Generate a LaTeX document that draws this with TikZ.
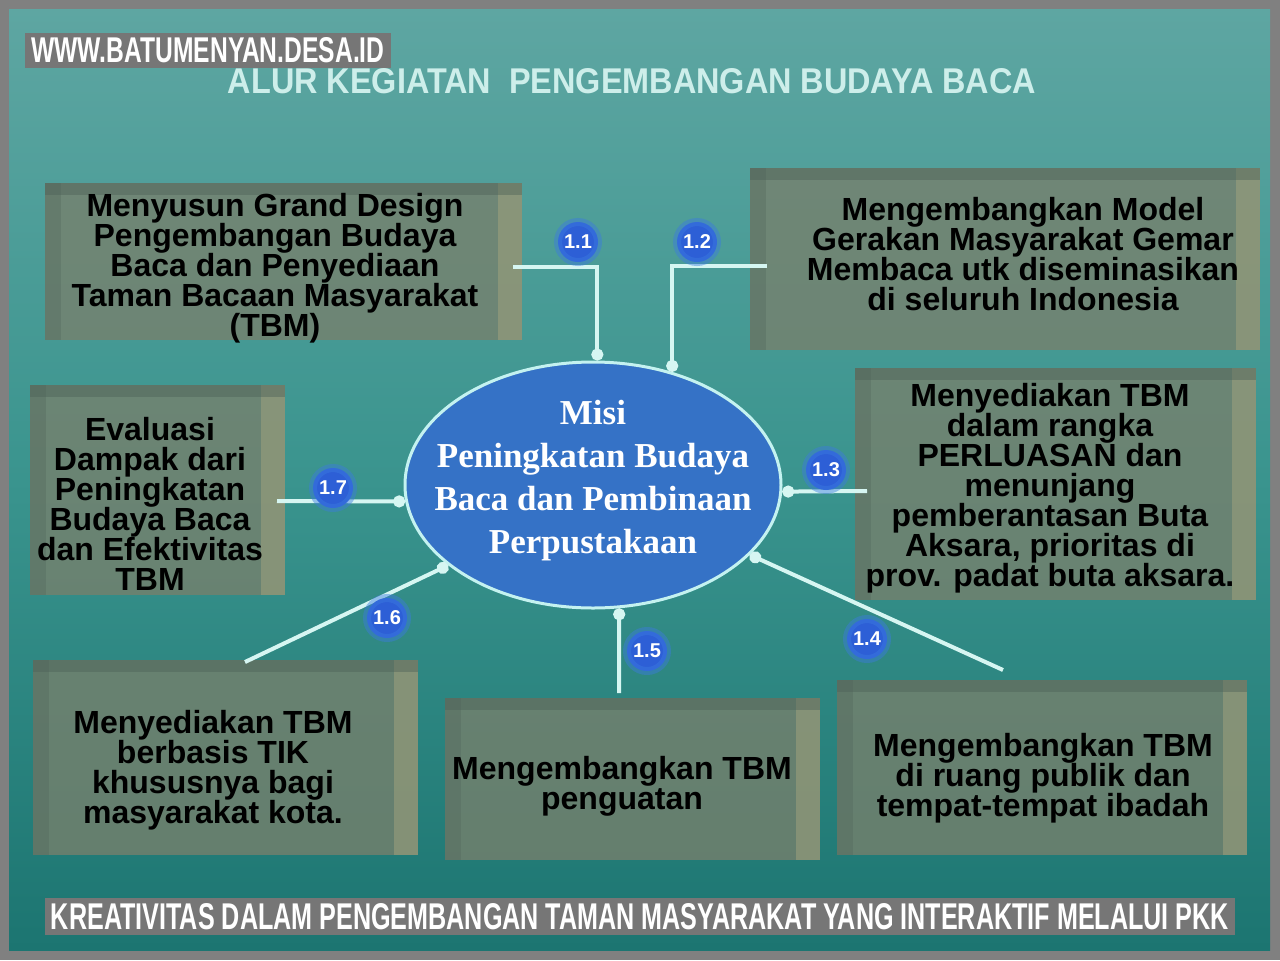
\documentclass[tikz,border=0pt]{standalone}
\usepackage{fontspec}
\usepackage{graphicx}
\setmainfont{Liberation Sans}
\newfontfamily\ellfont{Liberation Serif}
\usetikzlibrary{shapes.geometric,arrows.meta,fit}
\definecolor{outergray}{HTML}{808080}
\definecolor{labelgray}{HTML}{767676}
\definecolor{bgtop}{HTML}{5EA6A2}
\definecolor{bgmid}{HTML}{3A948E}
\definecolor{bgbot}{HTML}{1C7571}
\definecolor{boxface}{HTML}{78806C}
\definecolor{boxside}{HTML}{A4A47E}
\definecolor{boxtop}{HTML}{4E6258}
\definecolor{ellblue}{HTML}{3572C6}
\definecolor{ellborder}{HTML}{C4F2F0}
\definecolor{connc}{HTML}{D6F6F2}
\definecolor{badgeblue}{HTML}{2D5FD6}
\definecolor{badgehalo}{HTML}{3C7AE0}
\definecolor{titlec}{HTML}{CDEEEA}
\begin{document}
\begin{tikzpicture}[x=0.5pt,y=-0.5pt,
  boxst/.style={rectangle, fill=boxface, fill opacity=0.78, inner sep=0pt},
  txt/.style={align=center, text=black, font=\fontsize{16}{15}\selectfont\bfseries},
  conn/.style={draw=connc, line width=2pt, -{Circle[length=6pt]}},
  badge/.style={circle, fill=badgeblue, draw=badgehalo, draw opacity=0.45, line width=4pt,
    minimum size=20pt, inner sep=0pt, text=white, font=\fontsize{10}{10}\selectfont\bfseries},
  banner/.style={fill=labelgray, text=white, inner ysep=2.6pt, inner xsep=3pt}
]
\useasboundingbox (0,0) rectangle (1280,960);
% background
\fill[outergray] (0,0) rectangle (1280,960);
\shade[top color=bgtop, bottom color=bgbot, middle color=bgmid] (9,9) rectangle (1270,950);

% title
\node[text=titlec] (title) at (632,81) {\resizebox{404pt}{12.5pt}{\bfseries ALUR KEGIATAN\ \ PENGEMBANGAN BUDAYA BACA}};

% boxes
\node[boxst, fit={(45,183) (522,340)}] (b1) {};
\node[boxst, fit={(750,168) (1260,350)}] (b2) {};
\node[boxst, fit={(30,385) (285,595)}] (b3) {};
\node[boxst, fit={(855,368) (1256,600)}] (b4) {};
\node[boxst, fit={(33,660) (418,855)}] (b5) {};
\node[boxst, fit={(445,698) (820,860)}] (b6) {};
\node[boxst, fit={(837,680) (1247,855)}] (b7) {};
\foreach \b in {b1,b2,b3,b4,b5,b6,b7}{
  \fill[boxside, fill opacity=0.5] ([xshift=-12pt]\b.north east) rectangle (\b.south east);
  \fill[boxtop, fill opacity=0.45] (\b.north west) rectangle ([yshift=-6pt]\b.north east);
  \fill[boxtop, fill opacity=0.3] (\b.north west) rectangle ([xshift=8pt]\b.south west);
}

% box texts
\node[txt] (t1) at (275,268) {Menyusun Grand Design\\Pengembangan Budaya\\Baca dan Penyediaan\\Taman Bacaan Masyarakat\\(TBM)};
\node[txt] (t2) at (1023,254) {Mengembangkan Model\\Gerakan Masyarakat Gemar\\Membaca utk diseminasikan\\di seluruh Indonesia};
\node[txt] (t3) at (150,504) {Evaluasi\\Dampak dari\\Peningkatan\\Budaya Baca\\dan Efektivitas\\TBM};
\node[txt] (t4) at (1050,488) {Menyediakan TBM\\dalam rangka\\PERLUASAN dan\\menunjang\\pemberantasan Buta\\Aksara, prioritas di\\prov. padat buta aksara.};
\node[txt] (t5) at (213,770) {Menyediakan TBM\\berbasis TIK\\khususnya bagi\\masyarakat kota.};
\node[txt] (t6) at (622,786) {Mengembangkan TBM\\penguatan};
\node[txt] (t7) at (1043,778) {Mengembangkan TBM\\di ruang publik dan\\tempat-tempat ibadah};

% central ellipse
\node[ellipse, fill=ellblue, draw=ellborder, line width=1.5pt, minimum width=188pt, minimum height=123pt,
  inner sep=0pt] (ell) at (593,485) {};
\node[text=white, align=center, font=\ellfont\fontsize{17.5}{21.5}\selectfont\bfseries]
  (elltext) at (593,481) {Misi\\Peningkatan Budaya\\Baca dan Pembinaan\\Perpustakaan};

% connector start points
\coordinate (c11) at (513,267);
\coordinate (c12) at (767,266);
\coordinate (c17) at (277,501);
\coordinate (c13) at (867,491);
\coordinate (c16) at (245,662);
\coordinate (c15) at (619,693);
\coordinate (c14) at (1003,670);

\draw[conn] (c11) -| (ell.88);
\draw[conn] (c12) -| (ell.55.5);
\draw[conn] (c17) -- (ell.185);
\draw[conn] (c13) -- (ell.358);
\draw[conn] (c16) -- (ell.209);
\draw[conn] (c15) -- (ell.282);
\draw[conn] (c14) -- (ell.336);

% badges
\node[badge] (n11) at (578,242) {1.1};
\node[badge] (n12) at (697,242) {1.2};
\node[badge] (n17) at (333,488) {1.7};
\node[badge] (n13) at (826,470) {1.3};
\node[badge] (n16) at (387,618) {1.6};
\node[badge] (n15) at (647,651) {1.5};
\node[badge] (n14) at (867,639) {1.4};

% watermark labels
\node[banner] (wm) at (208,50.5) {\resizebox{176.5pt}{12.5pt}{\bfseries WWW.BATUMENYAN.DESA.ID}};
\node[banner] (cap) at (640,916.5) {\resizebox{589pt}{13pt}{\bfseries KREATIVITAS DALAM PENGEMBANGAN TAMAN MASYARAKAT YANG INTERAKTIF MELALUI PKK}};
\end{tikzpicture}
\end{document}
